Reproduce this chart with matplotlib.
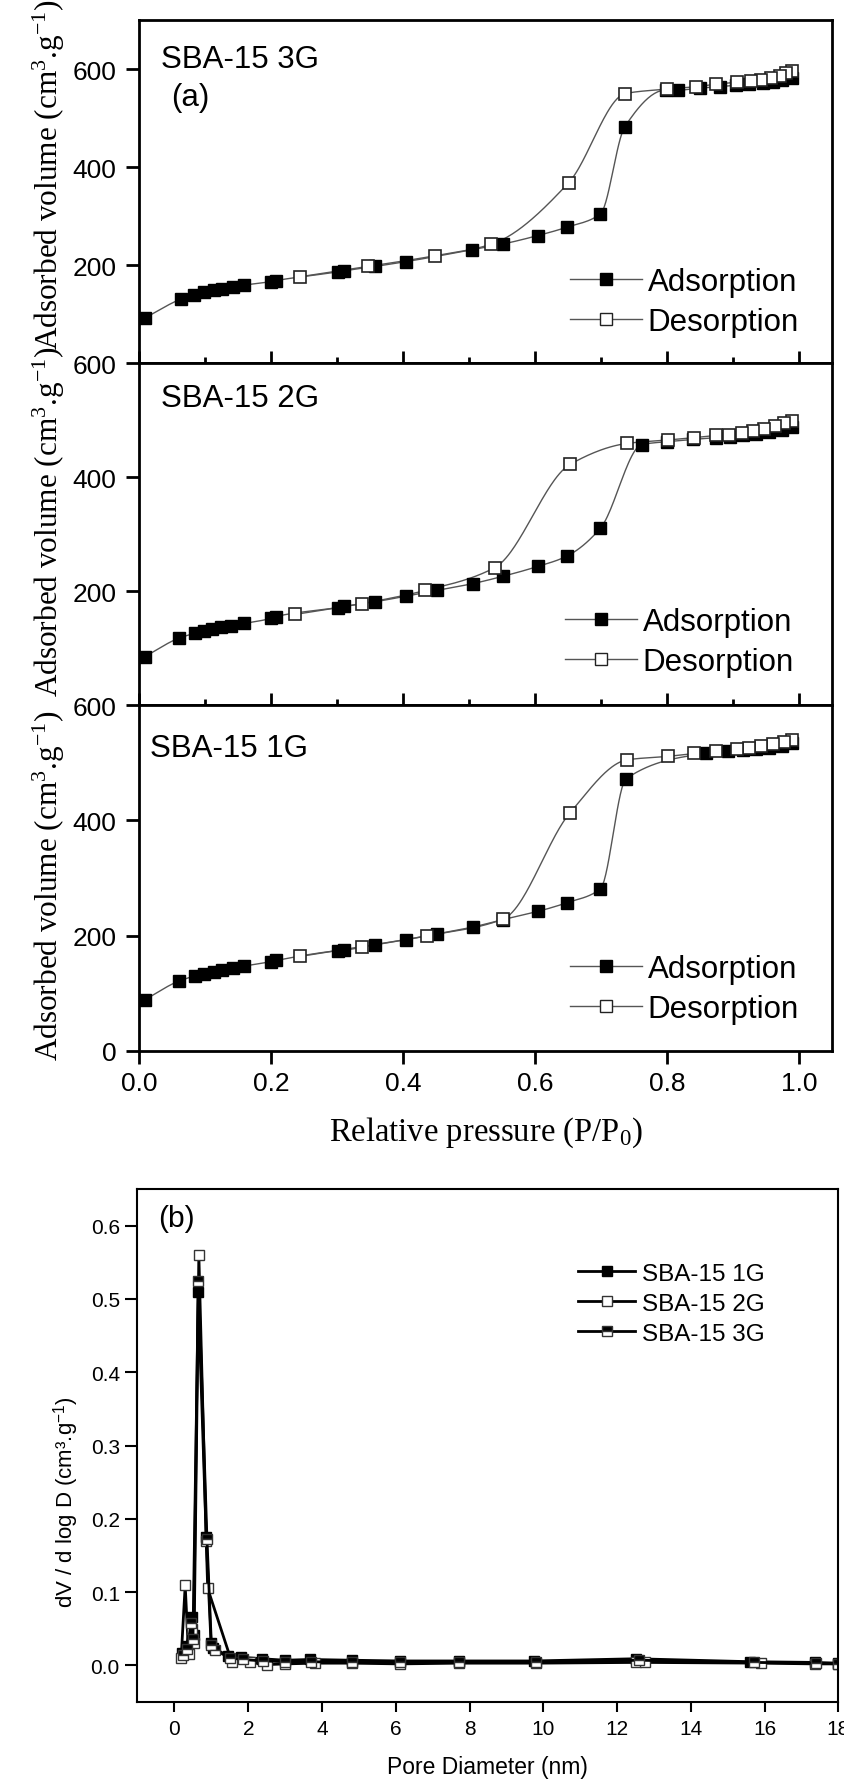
import numpy as np
import matplotlib
matplotlib.use('Agg')
import matplotlib.pyplot as plt
from matplotlib.lines import Line2D

plt.rcParams['font.family'] = ['Liberation Sans', 'DejaVu Sans']
plt.rcParams['mathtext.fontset'] = 'custom'
plt.rcParams['mathtext.rm'] = 'Liberation Serif'
plt.rcParams['mathtext.it'] = 'Liberation Serif:italic'
plt.rcParams['mathtext.sf'] = 'Liberation Sans'

# ---- (a) N2 isotherms: relative pressure P/P0 vs adsorbed volume ----
# SBA-15 3G
p_ads_3g = [0.009, 0.063, 0.084, 0.099, 0.113, 0.126, 0.142, 0.159, 0.200, 0.207,
            0.301, 0.310, 0.357, 0.405, 0.504, 0.552, 0.604, 0.648, 0.699, 0.736,
            0.798, 0.817, 0.850, 0.880, 0.905, 0.925, 0.945, 0.960, 0.975, 0.990]
v_ads_3g = [92, 130, 139, 144, 149, 152, 156, 159, 166, 168,
            186, 188, 197, 207, 231, 243, 260, 277, 304, 482,
            557, 557, 561, 564, 567, 569, 571, 574, 577, 581]
p_des_3g = [0.990, 0.981, 0.971, 0.957, 0.943, 0.928, 0.906, 0.875, 0.844, 0.800,
            0.737, 0.651, 0.533, 0.449, 0.347, 0.244]
v_des_3g = [596, 591, 586, 581, 577, 575, 573, 569, 564, 559,
            550, 368, 242, 219, 197, 176]

# SBA-15 2G
p_ads_2g = [0.009, 0.060, 0.085, 0.099, 0.111, 0.125, 0.140, 0.159, 0.200, 0.207,
            0.301, 0.311, 0.357, 0.405, 0.452, 0.506, 0.552, 0.604, 0.648, 0.699,
            0.762, 0.800, 0.840, 0.875, 0.895, 0.915, 0.935, 0.955, 0.975, 0.990]
v_ads_2g = [85, 117, 126, 130, 133, 136, 139, 143, 152, 155,
            171, 173, 181, 191, 201, 213, 226, 243, 261, 310,
            457, 462, 466, 469, 471, 473, 476, 479, 483, 488]
p_des_2g = [0.990, 0.977, 0.964, 0.947, 0.930, 0.913, 0.894, 0.875, 0.841, 0.802,
            0.740, 0.653, 0.539, 0.434, 0.338, 0.237]
v_des_2g = [499, 494, 489, 485, 480, 477, 474, 473, 469, 465,
            459, 422, 241, 201, 178, 159]

# SBA-15 1G
p_ads_1g = [0.009, 0.060, 0.085, 0.099, 0.113, 0.126, 0.142, 0.159, 0.200, 0.208,
            0.301, 0.311, 0.357, 0.405, 0.451, 0.506, 0.552, 0.604, 0.648, 0.699,
            0.738, 0.859, 0.892, 0.915, 0.935, 0.955, 0.975, 0.990]
v_ads_1g = [89, 121, 130, 133, 137, 140, 144, 147, 155, 157,
            174, 175, 184, 193, 203, 215, 228, 242, 257, 281,
            472, 516, 520, 522, 524, 526, 529, 534]
p_des_1g = [0.990, 0.977, 0.960, 0.943, 0.925, 0.906, 0.875, 0.841, 0.802, 0.740,
            0.653, 0.552, 0.437, 0.338, 0.244]
v_des_1g = [540, 536, 532, 529, 526, 523, 520, 516, 511, 505,
            413, 229, 200, 181, 164]

# ---- (b) pore size distribution ----
d_1g = [0.20, 0.33, 0.47, 0.52, 0.64, 0.86, 0.99, 1.05, 1.44, 1.80, 2.37, 3.00,
        3.67, 4.80, 6.10, 7.70, 9.75, 12.50, 15.60, 17.35, 18.00]
dv_1g = [0.017, 0.027, 0.066, 0.042, 0.510, 0.175, 0.031, 0.024, 0.013, 0.011, 0.009, 0.007,
         0.008, 0.007, 0.006, 0.006, 0.006, 0.009, 0.005, 0.004, 0.003]
d_2g = [0.18, 0.29, 0.38, 0.47, 0.53, 0.66, 0.86, 0.90, 1.55, 2.05, 2.50, 3.00,
        3.80, 4.80, 6.10, 7.70, 9.80, 12.50, 12.75, 15.90, 17.35, 18.00]
dv_2g = [0.010, 0.109, 0.016, 0.050, 0.030, 0.560, 0.170, 0.105, 0.005, 0.004, 0.001, 0.002,
         0.003, 0.003, 0.002, 0.003, 0.003, 0.004, 0.004, 0.003, 0.002, 0.002]
d_3g = [0.22, 0.35, 0.45, 0.50, 0.65, 0.88, 1.00, 1.10, 1.50, 1.85, 2.40, 3.00,
        3.70, 4.80, 6.10, 7.70, 9.80, 12.60, 15.70, 17.40, 18.00]
dv_3g = [0.014, 0.022, 0.058, 0.036, 0.524, 0.172, 0.028, 0.021, 0.010, 0.008, 0.006, 0.005,
         0.005, 0.004, 0.004, 0.004, 0.004, 0.007, 0.004, 0.003, 0.002]


def smooth(x, y, n=400):
    # monotone cubic (pchip) curve through the measured points
    x = np.asarray(x, float)
    y = np.asarray(y, float)
    o = np.argsort(x)
    x, y = x[o], y[o]
    h = np.diff(x)
    d = np.diff(y) / h
    m = np.zeros_like(y)
    for k in range(1, len(x) - 1):
        if d[k - 1] * d[k] > 0:
            w1 = 2 * h[k] + h[k - 1]
            w2 = h[k] + 2 * h[k - 1]
            m[k] = (w1 + w2) / (w1 / d[k - 1] + w2 / d[k])
    m[0], m[-1] = d[0], d[-1]
    xs = np.linspace(x[0], x[-1], n)
    i = np.clip(np.searchsorted(x, xs) - 1, 0, len(x) - 2)
    t = (xs - x[i]) / h[i]
    ys = ((2 * t**3 - 3 * t**2 + 1) * y[i] + (t**3 - 2 * t**2 + t) * h[i] * m[i]
          + (-2 * t**3 + 3 * t**2) * y[i + 1] + (t**3 - t**2) * h[i] * m[i + 1])
    return xs, ys


W, H = 845, 1783
fig = plt.figure(figsize=(W / 100, H / 100), dpi=100)


def add_ax(l, t, r, b):
    return fig.add_axes([l / W, 1 - b / H, (r - l) / W, (b - t) / H])


ax1 = add_ax(139, 21, 832, 364)
ax2 = add_ax(139, 364, 832, 706)
ax3 = add_ax(139, 706, 832, 1052)
axb = add_ax(136.5, 1190, 838.5, 1703)

ylabel_a = 'Adsorbed volume (cm$^{3}$.g$^{-1}$)'
panels = [
    (ax1, p_ads_3g, v_ads_3g, p_des_3g, v_des_3g, 'SBA-15 3G', 700, (0.032, 0.863), 0.55, (0.622, 0.179)),
    (ax2, p_ads_2g, v_ads_2g, p_des_2g, v_des_2g, 'SBA-15 2G', 600, (0.032, 0.874), 0.538, (0.615, 0.183)),
    (ax3, p_ads_1g, v_ads_1g, p_des_1g, v_des_1g, 'SBA-15 1G', 600, (0.016, 0.853), 0.48, (0.622, 0.178)),
]

for ax, pa, va, pd, vd, name, ytop, tpos, ylab_y, legpos in panels:
    xs, ys = smooth(pa, va)
    ax.plot(xs, ys, color='#555555', lw=1.0, zorder=2)
    xs, ys = smooth(pd, vd)
    ax.plot(xs, ys, color='#555555', lw=1.0, zorder=2)
    ax.plot(pa, va, 's', ms=9, mfc='black', mec='black', mew=1.0, zorder=3)
    ax.plot(pd, vd, 's', ms=9, mfc='white', mec='#222222', mew=1.2, zorder=4)

    ax.set_xlim(0, 1.05)
    ax.set_ylim(0, ytop)
    ax.set_xticks(np.arange(0, 1.01, 0.2))
    if ax is ax3:
        ax.set_yticks([0, 200, 400, 600])
        ax.tick_params(axis='x', direction='out', length=9.4, width=2, pad=5, labelsize=19)
    else:
        ax.set_yticks([200, 400, 600])
        ax.set_xticks(np.arange(0.1, 1.01, 0.2), minor=True)
        ax.tick_params(axis='x', which='major', direction='in', length=9, width=2, labelbottom=False)
        ax.tick_params(axis='x', which='minor', direction='in', length=4.5, width=2)
    ax.tick_params(axis='y', direction='out', length=9.4, width=2, pad=7, labelsize=19)
    for s in ax.spines.values():
        s.set_linewidth(2)

    ax.text(tpos[0], tpos[1], name, transform=ax.transAxes, fontsize=22.5,
            ha='left', va='baseline')
    ax.set_ylabel(ylabel_a, fontsize=22.5, family='Liberation Serif')
    ax.yaxis.set_label_coords(-0.104, ylab_y)

    handles = [
        Line2D([], [], color='#555555', lw=1.0, marker='s', ms=8, mfc='black', mec='black'),
        Line2D([], [], color='#555555', lw=1.0, marker='s', ms=8, mfc='white', mec='#222222'),
    ]
    ax.legend(handles, ['Adsorption', 'Desorption'], loc='center left', bbox_to_anchor=legpos,
              frameon=False, fontsize=22.5, handlelength=2.3, handletextpad=0.18,
              labelspacing=0.32, borderpad=0, borderaxespad=0, numpoints=1)

ax1.text(0.046, 0.752, '(a)', transform=ax1.transAxes, fontsize=22.5, ha='left', va='baseline')
ax3.set_xlabel('Relative pressure (P/P$_{0}$)', fontsize=23.5, family='Liberation Serif')
ax3.xaxis.set_label_coords(0.5, -0.184)

# ---- panel (b) ----
axb.plot(d_1g, dv_1g, '-s', color='black', lw=2, ms=7.5, mfc='black', mec='black', mew=1, label='SBA-15 1G')
axb.plot(d_2g, dv_2g, '-s', color='black', lw=2, ms=7.5, mfc='white', mec='#333333', mew=1, label='SBA-15 2G')
axb.plot(d_3g, dv_3g, '-s', color='black', lw=2, ms=7.5, fillstyle='top', mfc='black',
         mfcalt='white', mec='#333333', mew=1, label='SBA-15 3G')
axb.set_xlim(-1.03, 18)
axb.set_ylim(-0.05, 0.65)
axb.set_xticks(np.arange(0, 19, 2))
axb.set_yticks(np.arange(0, 0.61, 0.1))
axb.tick_params(axis='x', direction='out', length=7, width=1.5, pad=5, labelsize=15)
axb.tick_params(axis='y', direction='out', length=9, width=1.5, pad=3, labelsize=15)
for s in axb.spines.values():
    s.set_linewidth(1.5)
axb.set_xlabel('Pore Diameter (nm)', fontsize=16.5)
axb.xaxis.set_label_coords(0.5, -0.1025)
axb.set_ylabel('dV / d log D (cm³.g$^{\\mathsf{-1}}$)', fontsize=16)
axb.yaxis.set_label_coords(-0.079, 0.392)
axb.text(0.057, 0.943, '(b)', transform=axb.transAxes, fontsize=21.6, ha='center', va='center')
axb.legend(loc='center left', bbox_to_anchor=(0.629, 0.776), frameon=False, fontsize=17.5,
           handlelength=2.35, handletextpad=0.3, labelspacing=0.33, borderpad=0,
           borderaxespad=0, numpoints=1)

fig.savefig('out.png', dpi=100)
